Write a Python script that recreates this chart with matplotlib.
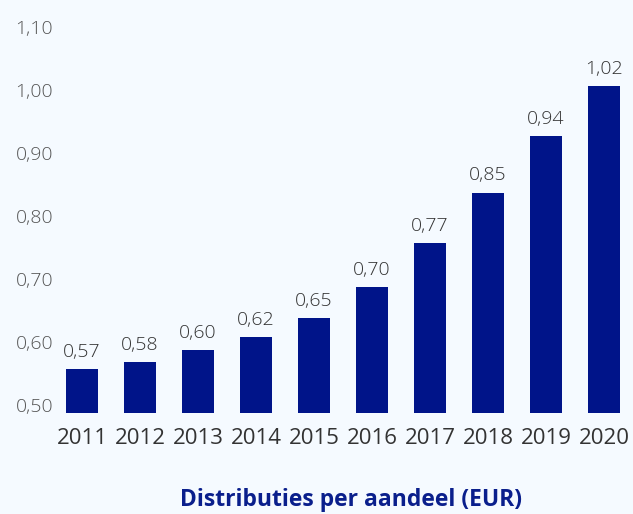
import matplotlib
matplotlib.use("Agg")
import matplotlib.pyplot as plt
import matplotlib.transforms as mtransforms

years = ["2011", "2012", "2013", "2014", "2015", "2016", "2017", "2018", "2019", "2020"]
values = [0.57, 0.58, 0.60, 0.62, 0.65, 0.70, 0.77, 0.85, 0.94, 1.02]
yticks = [0.50, 0.60, 0.70, 0.80, 0.90, 1.00, 1.10]
title = "Distributies per aandeel (EUR)"

bg = "#f5faff"
bar_color = "#001489"

plt.rcParams['font.family'] = ['Open Sans', 'DejaVu Sans']

fig = plt.figure(figsize=(6.33, 5.14), dpi=100, facecolor=bg)
ax = fig.add_axes([0.084, 0.197, 0.916, 0.734], facecolor=bg)

x = list(range(len(years)))
ax.bar(x, values, width=0.55, color=bar_color, bottom=0, zorder=2)
ax.set_ylim(0.50, 1.10)
ax.set_xlim(-0.5, len(years) - 0.5)

for xi, v in zip(x, values):
    ax.text(xi, v + 0.013, f"{v:.2f}".replace(".", ","), ha="center", va="bottom",
            fontsize=14, color="#333333", fontweight="light")

ax.set_yticks(yticks)
ax.set_yticklabels([f"{t:.2f}".replace(".", ",") for t in yticks],
                   fontsize=14, color="#555555", fontweight="light")
ax.set_xticks(x)
ax.set_xticklabels(years, fontsize=16, color="#333333")
ax.tick_params(axis="y", length=0, pad=0)
ax.tick_params(axis="x", length=0, pad=11)
offset = mtransforms.ScaledTranslation(0, 8 / 100, fig.dpi_scale_trans)
for lab in ax.get_yticklabels():
    lab.set_transform(lab.get_transform() + offset)
for s in ax.spines.values():
    s.set_visible(False)

fig.text(0.555, 0.028, title, ha="center", va="center", fontsize=16.5,
         fontweight="bold", color="#0a1f8c")

fig.savefig("out.png", dpi=100, facecolor=bg)
